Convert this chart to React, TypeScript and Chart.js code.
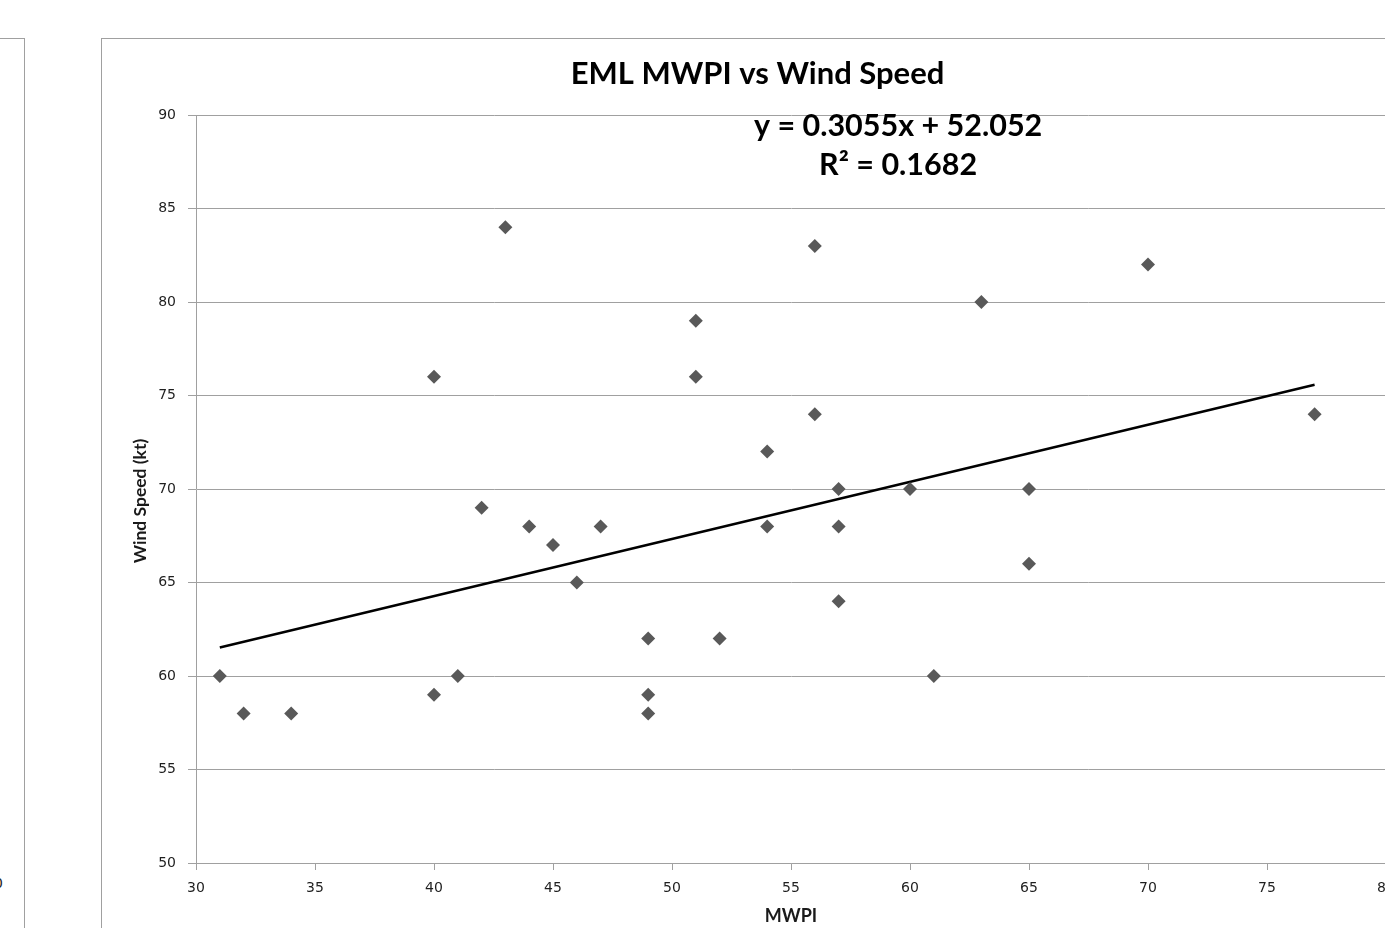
import React, { useEffect, useRef } from "react";
import { Chart, registerables } from "chart.js";

Chart.register(...registerables);

const mwpi = [31, 32, 34, 40, 40, 41, 42, 43, 44, 45, 46, 47, 49, 49, 49, 51, 51, 52, 54, 54, 56, 56, 57, 57, 57, 60, 61, 63, 65, 65, 70, 77];
const windSpeed = [60, 58, 58, 76, 59, 60, 69, 84, 68, 67, 65, 68, 62, 59, 58, 79, 76, 62, 72, 68, 83, 74, 70, 68, 64, 70, 60, 80, 70, 66, 82, 74];

const trendSlope = 0.3055;
const trendIntercept = 52.052;
const rSquared = 0.1682;

const xTicks = [30, 35, 40, 45, 50, 55, 60, 65, 70, 75, 80];
const yTicks = [50, 55, 60, 65, 70, 75, 80, 85, 90];

const chartTitle = "EML MWPI vs Wind Speed";
const xTitle = "MWPI";
const yTitle = "Wind Speed (kt)";
const equationLines = [
  `y = ${trendSlope}x + ${trendIntercept}`,
  `R² = ${rSquared}`,
];
// label anchor in data units
const equationAnchorX = 59.5;
const equationAnchorY = [89.4, 87.3];

const GRID = "#a0a0a0";
const TICK_COLOR = "#1f1f1f";

const labelsPlugin = {
  id: "extraLabels",
  afterDatasetsDraw(chart: any) {
    const { ctx, scales, chartArea } = chart;
    ctx.save();
    ctx.font = "bold 30.5px Lato";
    ctx.fillStyle = "#000000";
    ctx.textAlign = "center";
    ctx.textBaseline = "middle";
    equationLines.forEach((line, i) => {
      ctx.fillText(
        line,
        scales.x.getPixelForValue(equationAnchorX),
        scales.y.getPixelForValue(equationAnchorY[i])
      );
    });
    ctx.restore();
  },
  afterDraw(chart: any) {
    const { ctx, chartArea } = chart;
    ctx.save();
    ctx.font = "bold 17.5px Lato";
    ctx.fillStyle = "#1a1a1a";
    ctx.textAlign = "center";
    ctx.textBaseline = "middle";
    ctx.translate(38, (chartArea.top + chartArea.bottom) / 2 + 12);
    ctx.rotate(-Math.PI / 2);
    ctx.fillText(yTitle, 0, 0);
    ctx.restore();
  },
};

export default function App() {
  const canvasRef = useRef<HTMLCanvasElement | null>(null);

  useEffect(() => {
    if (!canvasRef.current) return;
    const xMin = Math.min(...mwpi);
    const xMax = Math.max(...mwpi);
    const chart = new Chart(canvasRef.current, {
      type: "scatter",
      data: {
        datasets: [
          {
            label: "Wind Speed",
            data: mwpi.map((x, i) => ({ x, y: windSpeed[i] })),
            pointStyle: "rectRot",
            pointRadius: 7,
            backgroundColor: "#595959",
            borderColor: "#595959",
            borderWidth: 0,
            showLine: false,
          },
          {
            label: "Trend",
            data: [
              { x: xMin, y: trendSlope * xMin + trendIntercept },
              { x: xMax, y: trendSlope * xMax + trendIntercept },
            ],
            showLine: true,
            borderColor: "#000000",
            borderWidth: 2.5,
            pointRadius: 0,
            fill: false,
          } as any,
        ],
      },
      options: {
        responsive: false,
        animation: false,
        layout: { padding: { left: 27, right: 28, top: 0, bottom: 0 } },
        plugins: {
          legend: { display: false },
          tooltip: { enabled: false },
          title: {
            display: true,
            text: chartTitle,
            color: "#000000",
            font: { family: "Lato", size: 31, weight: "bold", lineHeight: 1.2 },
            padding: { top: 15.9, bottom: 22.9 },
          },
        },
        scales: {
          x: {
            type: "linear",
            min: xTicks[0],
            max: xTicks[xTicks.length - 1],
            afterBuildTicks: (s: any) => {
              s.ticks = xTicks.map((v) => ({ value: v }));
            },
            afterFit: (s: any) => {
              s.height = 76;
            },
            ticks: {
              color: TICK_COLOR,
              font: { family: "DejaVu Sans", size: 14 },
              padding: 10,
              maxRotation: 0,
              autoSkip: false,
            },
            grid: { drawOnChartArea: false, drawTicks: true, tickLength: 7, color: GRID },
            border: { display: true, color: GRID },
            title: {
              display: true,
              text: xTitle,
              color: "#1a1a1a",
              font: { family: "Lato", size: 18, weight: "bold", lineHeight: 1.2 },
              padding: { top: 0, bottom: 12.2 },
            },
          },
          y: {
            type: "linear",
            min: yTicks[0],
            max: yTicks[yTicks.length - 1],
            afterBuildTicks: (s: any) => {
              s.ticks = yTicks.map((v) => ({ value: v }));
            },
            afterFit: (s: any) => {
              s.width = 67;
            },
            ticks: {
              color: TICK_COLOR,
              font: { family: "DejaVu Sans", size: 14 },
              padding: 12,
              autoSkip: false,
            },
            grid: { drawOnChartArea: true, drawTicks: true, tickLength: 8, color: GRID },
            border: { display: true, color: GRID },
            title: { display: false },
          },
        },
      } as any,
      plugins: [labelsPlugin],
    });
    return () => chart.destroy();
  }, []);

  return (
    <div
      style={{
        position: "fixed",
        left: 0,
        top: 0,
        width: 1385,
        height: 928,
        overflow: "hidden",
        background: "#ffffff",
      }}
    >
      <div
        style={{
          position: "absolute",
          left: -20,
          top: 38,
          width: 43,
          height: 1000,
          border: `1px solid ${GRID}`,
          overflow: "hidden",
        }}
      >
        <span
          style={{
            position: "absolute",
            left: 13,
            top: 836,
            fontFamily: "DejaVu Sans",
            fontSize: 14,
            color: "#262626",
          }}
        >
          0
        </span>
      </div>
      <div
        style={{
          position: "absolute",
          left: 101,
          top: 38,
          width: 1312,
          height: 940,
          border: `1px solid ${GRID}`,
        }}
      >
        <canvas ref={canvasRef} width={1312} height={900} style={{ display: "block", width: 1312, height: 900 }} />
      </div>
    </div>
  );
}
